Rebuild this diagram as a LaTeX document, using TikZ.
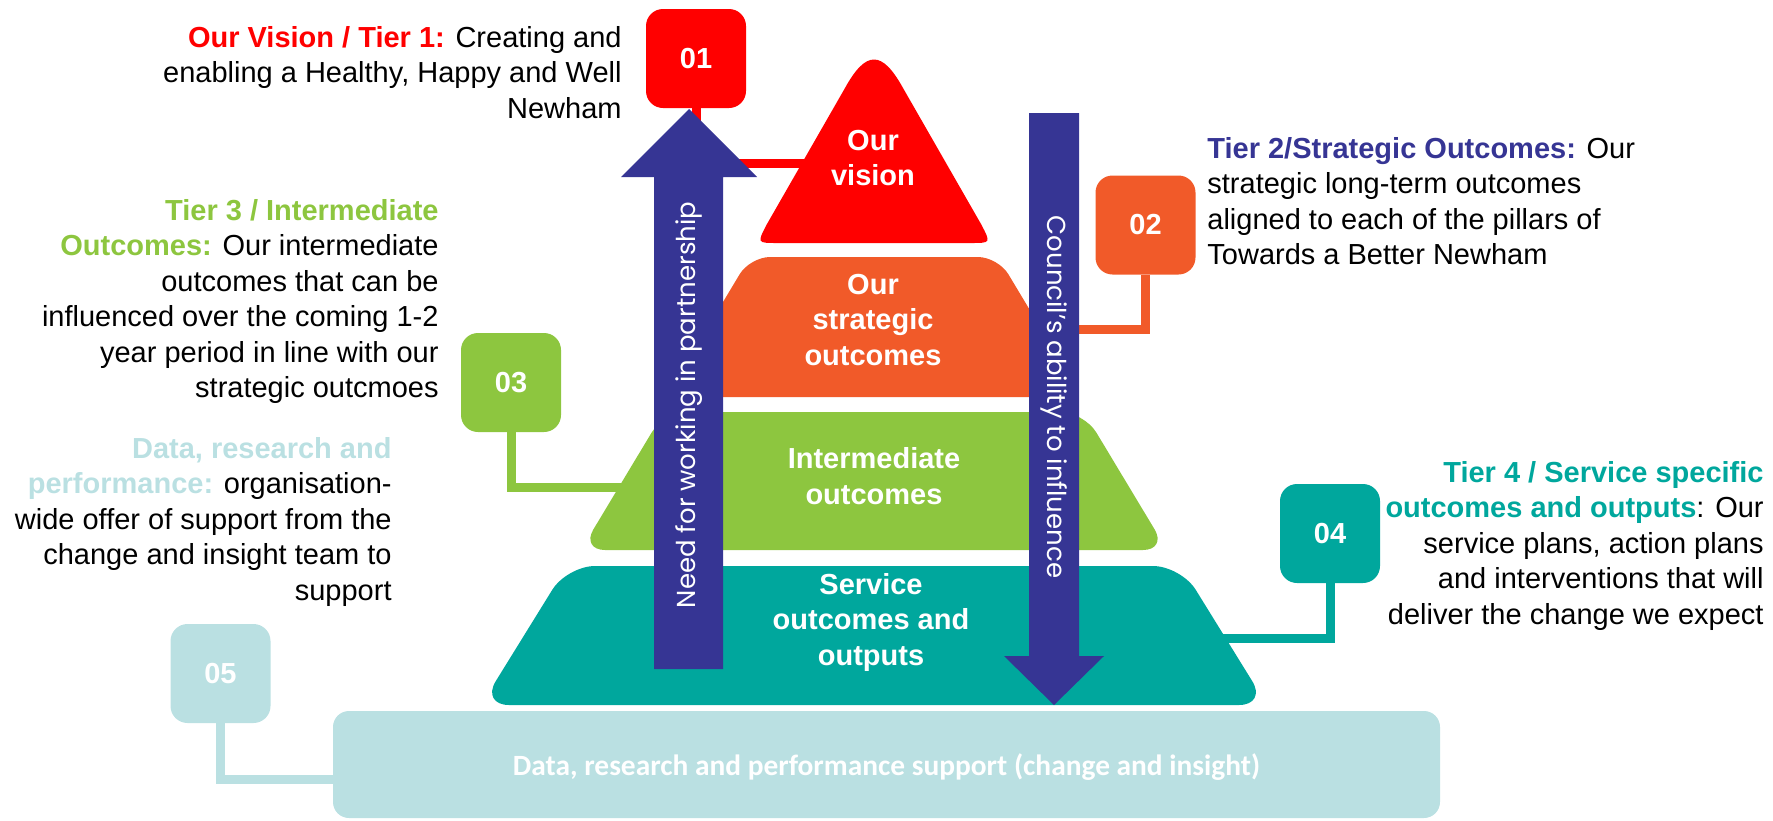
\documentclass[tikz,border=0pt]{standalone}
\usepackage{fontspec}
\setmainfont{Liberation Sans}
\newfontfamily\calibfont{Carlito}
\newfontfamily\gothfont{Poppins}
\usetikzlibrary{positioning}
\definecolor{visred}{HTML}{FF0000}
\definecolor{strorange}{HTML}{F15A29}
\definecolor{intgreen}{HTML}{8DC63F}
\definecolor{servteal}{HTML}{00A79D}
\definecolor{datablue}{HTML}{BAE0E2}
\definecolor{arrownavy}{HTML}{363594}
\tikzset{
  numbox/.style={rounded corners=8.5pt, minimum width=50pt, minimum height=49.5pt, inner sep=0pt, text=white, font=\bfseries\fontsize{14.5}{17}\selectfont},
  link/.style={line width=4.5pt},
  sidetext/.style={inner sep=0pt, font=\fontsize{14.5}{17.75}\selectfont},
  tierlabel/.style={text=white, align=center, inner sep=0pt, font=\bfseries\fontsize{14.5}{17.75}\selectfont},
  vertlabel/.style={text=white, inner sep=0pt, font=\gothfont\fontsize{13}{15}\selectfont}
}
\begin{document}
\begin{tikzpicture}[x=0.5pt, y=-0.5pt]
\useasboundingbox (0,0) rectangle (1773,820);
% numbered boxes
\node[numbox, fill=visred] (b01) at (696,58.5) {01};
\node[numbox, fill=strorange] (b02) at (1145.5,225) {02};
\node[numbox, fill=intgreen] (b03) at (511,382.5) {03};
\node[numbox, fill=servteal] (b04) at (1330,533.5) {04};
\node[numbox, fill=datablue] (b05) at (220.5,673.5) {05};
% connector ends (hidden under the tiers)
\coordinate (visionleft) at (812,163);
\coordinate (stratright) at (1000,329.5);
\coordinate (intleft) at (640,487);
\coordinate (servright) at (1210,638);
\coordinate (dataleft) at (345,779);
\draw[link, visred] (b01.south) |- (visionleft);
\draw[link, strorange] (b02.south) |- (stratright);
\draw[link, intgreen] (b03.south) |- (intleft);
\draw[link, servteal] (b04.south) |- (servright);
\draw[link, datablue] (b05.south) |- (dataleft);
% pyramid tiers
\fill[visred] (874,243) -- (777,243) .. controls (757,243) .. (767,224) -- (845,88)
  .. controls (866,50) and (882,50) .. (903,88) -- (981,224) .. controls (991,243) .. (971,243) -- cycle;
\fill[strorange, rounded corners=10pt] (750,257) -- (998,257) -- (1082,397) -- (666,397) -- cycle;
\fill[intgreen, rounded corners=12pt] (664,412) -- (1084,412) -- (1167,550) -- (581,550) -- cycle;
\fill[servteal, rounded corners=14pt] (567,566) -- (1181,566) -- (1267,705) -- (481,705) -- cycle;
\node[fill=datablue, rounded corners=8pt, minimum width=553.5pt, minimum height=53.5pt, inner sep=0pt,
  text depth=0pt, text=white, font=\calibfont\bfseries\fontsize{14.7}{17}\selectfont] (databox) at (886.5,764.5)
  {Data, research and performance support (change and insight)};
% arrows
\fill[arrownavy] (654,669) -- (654,177) -- (621,177) -- (689,109) -- (757,177) -- (723,177) -- (723,669) -- cycle;
\fill[arrownavy] (1029,113) -- (1029,656) -- (1004,656) -- (1054,705) -- (1104,656) -- (1079,656) -- (1079,113) -- cycle;
\node[vertlabel, rotate=90] (needlbl) at (689,405) {Need for working in partnership};
\node[vertlabel, rotate=-90] (councillbl) at (1054,397) {Council’s ability to influence};
% tier labels
\node[tierlabel] (visionlbl) at (873,158) {Our\\vision};
\node[tierlabel] (stratlbl) at (873,320) {Our\\strategic\\outcomes};
\node[tierlabel] (intlbl) at (874,476) {Intermediate\\outcomes};
\node[tierlabel] (servlbl) at (871,622) {Service\\outcomes and\\outputs};
% side texts
\node[sidetext, anchor=north east, align=right] (tier1txt) at (622,26)
  {\textcolor{visred}{\bfseries Our Vision / Tier 1:} Creating and\\enabling a Healthy, Happy and Well\\Newham};
\node[sidetext, anchor=north west, align=left] (tier2txt) at (1207,137)
  {\textcolor{arrownavy}{\bfseries Tier 2/Strategic Outcomes:} Our\\strategic long-term outcomes\\aligned to each of the pillars of\\Towards a Better Newham};
\node[sidetext, anchor=north east, align=right] (tier3txt) at (439,199)
  {\textcolor{intgreen}{\bfseries Tier 3 / Intermediate}\\\textcolor{intgreen}{\bfseries Outcomes:} Our intermediate\\outcomes that can be\\influenced over the coming 1-2\\year period in line with our\\strategic outcmoes};
\node[sidetext, anchor=north east, align=right] (datatxt) at (392,437)
  {\textcolor{datablue}{\bfseries Data, research and}\\\textcolor{datablue}{\bfseries performance:} organisation-\\wide offer of support from the\\change and insight team to\\support};
\node[sidetext, anchor=north east, align=right] (tier4txt) at (1764,461)
  {\textcolor{servteal}{\bfseries Tier 4 / Service specific}\\\textcolor{servteal}{\bfseries outcomes and outputs}: Our\\service plans, action plans\\and interventions that will\\deliver the change we expect};
\end{tikzpicture}
\end{document}
